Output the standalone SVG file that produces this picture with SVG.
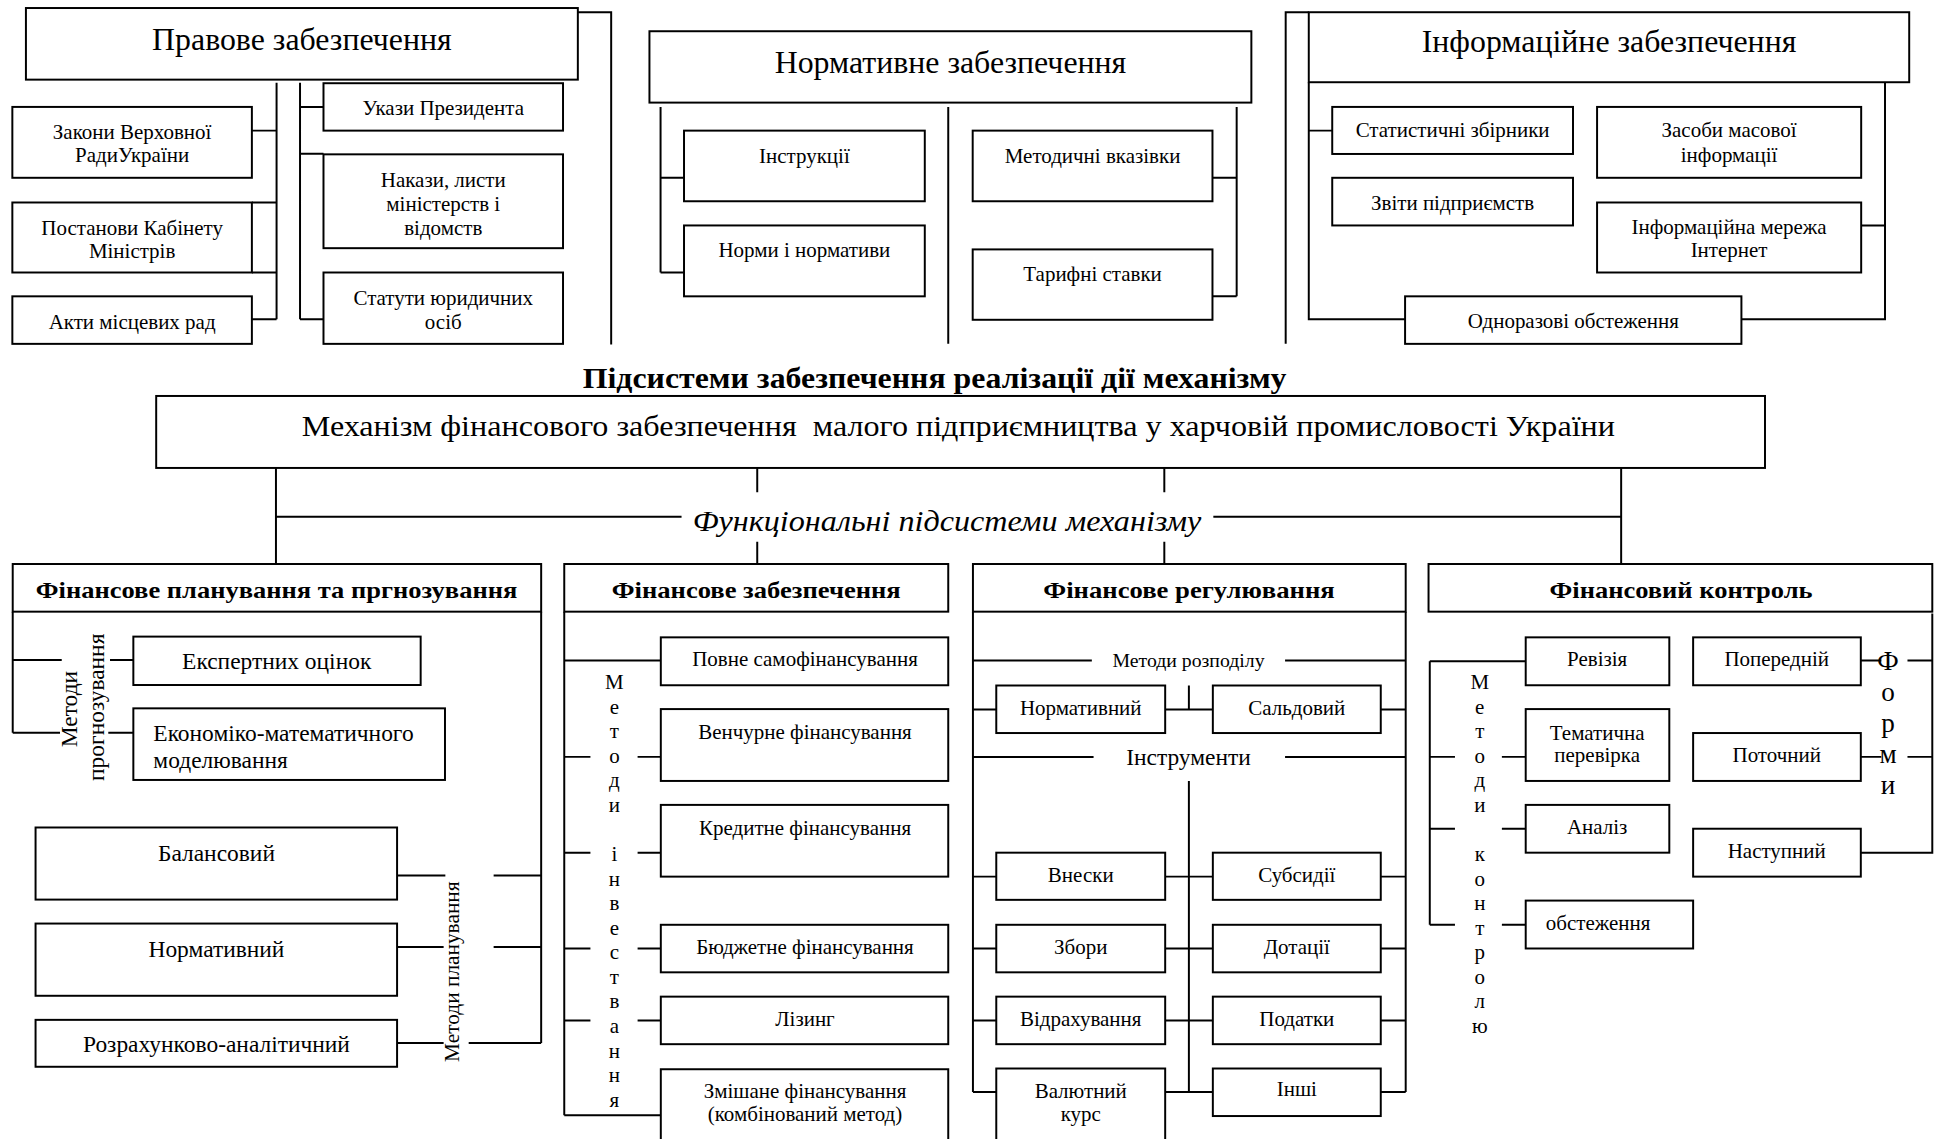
<svg xmlns="http://www.w3.org/2000/svg" width="1936" height="1139" viewBox="0 0 1936 1139">
<style>
.bx{fill:#fff;stroke:#000;stroke-width:1.6}
.ln{fill:none;stroke:#000;stroke-width:1.6}
text{font-family:'Liberation Serif','Times New Roman',serif;fill:#000;text-anchor:middle}
.f16{font-size:16px}
.f17{font-size:17px}
.f19{font-size:19px}
.f22{font-size:22px}
.f26{font-size:25.8px}
.hd{font-size:19.5px;font-weight:bold}
.st{text-anchor:start}
</style>
<rect width="1936" height="1139" fill="#fff"/>
<g transform="scale(1.234694)">
<g id="connectors" class="ln">
<path d="M468,10 H495 V279 M224,67 V258.5 M204,105.8 H224 M204,164 H224 M204,220.7 H224 M204,258.5 H224 M243,67 V258.5 M243,86.6 H262 M243,124.5 H262 M243,258.5 H262"/>
<path d="M535,86.6 V220.7 M535,144 H554 M535,220.7 H554 M768,86.6 V278.5 M1001.6,86.6 V240 M982,144 H1001.6 M982,240 H1001.6"/>
<path d="M1060,9.9 H1041.3 V278.5 M1060,66.6 V258.5 H1138 M1060,105.8 H1079 M1526.7,66.6 V258.5 H1410.4 M1507.4,182.6 H1526.7"/>
<path d="M223.5,379 V456.8 M223.5,418.5 H552 M982.7,418.5 H1313 M1313,379 V456.8 M613.3,379 V398.7 M613.3,438.7 V456.8 M943,379 V398.7 M943,438.7 V456.8"/>
<path d="M10.3,495.4 V593.4 M10.3,534.5 H50 M89.1,534.5 H108 M10.3,593.4 H48.6 M87.7,593.4 H108 M438.3,495.4 V844.8 M321.6,709 H360.7 M399.8,709 H438.3 M321.6,767 H359.3 M399.8,767 H438.3 M321.6,844.8 H359.3 M379.6,844.8 H438.3"/>
<path d="M457,495.4 V903.3 M457,535 H535.2 M457,613 H478.2 M516.4,613 H535.2 M457,690.6 H478.2 M516.4,690.6 H535.2 M457,768.2 H478.2 M516.4,768.2 H535.2 M457,826.6 H478.2 M516.4,826.6 H535.2 M457,903.3 H535.2"/>
<path d="M788,495.4 V884.5 M1138.5,495.4 V884.5 M788,535 H884.3 M1040.8,535 H1138.5 M788,574.6 H806.9 M943.7,574.6 H982.3 M962.9,555.2 V574.6 M1118.3,574.6 H1138.5 M788,613.1 H885.7 M1040.8,613.1 H1138.5 M962.9,632.5 V884.5 M788,710 H806.9 M943.7,710 H982.3 M1118.3,710 H1138.5 M788,768.2 H806.9 M943.7,768.2 H982.3 M1118.3,768.2 H1138.5 M788,826.6 H806.9 M943.7,826.6 H982.3 M1118.3,826.6 H1138.5 M788,884.5 H806.9 M943.7,884.5 H982.3 M1118.3,884.5 H1138.5"/>
<path d="M1565,496.8 V690.6 H1507.1 M1158,535.5 V749 M1158,535.5 H1235.7 M1158,613 H1178.4 M1216.4,613 H1235.7 M1158,671.2 H1178.4 M1216.4,671.2 H1235.7 M1158,749 H1178.4 M1216.4,749 H1235.7 M1507.1,535 H1523.7 M1544.9,535 H1565 M1507.1,613 H1523.7 M1544.9,613 H1565"/>
</g>

<g id="pravove"><rect class="bx" x="21" y="6.5" width="447" height="58"/><text class="f26" x="244.5" y="40.5">Правове забезпечення</text></g>
<g id="zakony"><rect class="bx" x="10" y="86.6" width="194" height="57.4"/><text class="f17"><tspan x="107" y="112.3">Закони Верховної</tspan><tspan x="107" y="131.5">РадиУкраїни</tspan></text></g>
<g id="postanovy"><rect class="bx" x="10" y="164" width="194" height="56.7"/><text class="f17"><tspan x="107" y="190">Постанови Кабінету</tspan><tspan x="107" y="209">Міністрів</tspan></text></g>
<g id="akty"><rect class="bx" x="10" y="240" width="194" height="38.5"/><text class="f17" x="107" y="266.3">Акти місцевих рад</text></g>
<g id="ukazy"><rect class="bx" x="262" y="67.4" width="194" height="38.4"/><text class="f17" x="359" y="93.2">Укази Президента</text></g>
<g id="nakazy"><rect class="bx" x="262" y="125" width="194" height="76"/><text class="f17"><tspan x="359" y="151.5">Накази, листи</tspan><tspan x="359" y="171">міністерств і</tspan><tspan x="359" y="190.3">відомств</tspan></text></g>
<g id="statuty"><rect class="bx" x="262" y="220.7" width="194" height="57.8"/><text class="f17"><tspan x="359" y="247.4">Статути юридичних</tspan><tspan x="359" y="266.6">осіб</tspan></text></g>

<g id="normatyvne"><rect class="bx" x="526" y="25.3" width="487.5" height="57.8"/><text class="f26" x="769.8" y="59.1">Нормативне забезпечення</text></g>
<g id="instrukcii"><rect class="bx" x="554" y="105.8" width="195" height="57.2"/><text class="f17" x="651.5" y="131.8">Інструкції</text></g>
<g id="normy"><rect class="bx" x="554" y="182.6" width="195" height="57.4"/><text class="f17" x="651.5" y="208.3">Норми і нормативи</text></g>
<g id="metodychni"><rect class="bx" x="787.8" y="105.8" width="194.2" height="57.2"/><text class="f17" x="884.9" y="131.8">Методичні вказівки</text></g>
<g id="taryfni"><rect class="bx" x="787.8" y="202" width="194.2" height="57"/><text class="f17" x="884.9" y="227.2">Тарифні ставки</text></g>

<g id="informaciyne"><rect class="bx" x="1060" y="9.9" width="486.3" height="56.7"/><text class="f26" x="1303.2" y="42.3">Інформаційне забезпечення</text></g>
<g id="statystychni"><rect class="bx" x="1079" y="86.6" width="195" height="38.1"/><text class="f17" x="1176.5" y="110.8">Статистичні збірники</text></g>
<g id="zvity"><rect class="bx" x="1079" y="144" width="195" height="38.6"/><text class="f17" x="1176.5" y="170">Звіти підприємств</text></g>
<g id="zasoby"><rect class="bx" x="1293.5" y="86.6" width="213.9" height="57.4"/><text class="f17"><tspan x="1400.4" y="111.3">Засоби масової</tspan><tspan x="1400.4" y="131">інформації</tspan></text></g>
<g id="merezha"><rect class="bx" x="1293.5" y="164" width="213.9" height="56.7"/><text class="f17"><tspan x="1400.4" y="189.3">Інформаційна мережа</tspan><tspan x="1400.4" y="208.3">Інтернет</tspan></text></g>
<g id="odnorazovi"><rect class="bx" x="1138" y="240" width="272.4" height="38.5"/><text class="f17" x="1274.2" y="266">Одноразові обстеження</text></g>

<g id="title"><text x="757" y="314.5" style="font-size:24px;font-weight:bold" textLength="570" lengthAdjust="spacingAndGlyphs">Підсистеми забезпечення реалізації дії механізму</text></g>
<g id="mechanism"><rect class="bx" x="126.5" y="320.7" width="1303" height="58.3"/><text x="776.2" y="353.3" style="font-size:23.5px" xml:space="preserve" textLength="1063.6" lengthAdjust="spacingAndGlyphs">Механізм фінансового забезпечення  малого підприємництва у харчовій промисловості України</text></g>
<g id="functional"><text x="767" y="430.3" style="font-size:24px;font-style:italic" textLength="412" lengthAdjust="spacingAndGlyphs">Функціональні підсистеми механізму</text></g>

<g id="col1-header"><rect class="bx" x="10.3" y="456.8" width="428" height="38.6"/><text class="hd" x="224" y="484.5" textLength="390" lengthAdjust="spacingAndGlyphs">Фінансове планування та пргнозування</text></g>
<g id="col2-header"><rect class="bx" x="457" y="456.8" width="311" height="38.6"/><text class="hd" x="612.5" y="484.5" textLength="234" lengthAdjust="spacingAndGlyphs">Фінансове забезпечення</text></g>
<g id="col3-header"><rect class="bx" x="788" y="456.8" width="350.5" height="38.6"/><text class="hd" x="963" y="484.5" textLength="236" lengthAdjust="spacingAndGlyphs">Фінансове регулювання</text></g>
<g id="col4-header"><rect class="bx" x="1157" y="456.8" width="408" height="38.6"/><text class="hd" x="1361.5" y="484.5" textLength="213" lengthAdjust="spacingAndGlyphs">Фінансовий контроль</text></g>

<g id="ekspertnykh"><rect class="bx" x="108" y="515.6" width="232.7" height="39.2"/><text class="f19" x="224.1" y="542.1">Експертних оцінок</text></g>
<g id="ekonomiko"><rect class="bx" x="108" y="573.7" width="252.4" height="58"/><text class="f19 st"><tspan x="124.2" y="600.2">Економіко-математичного</tspan><tspan x="124.2" y="622.3">моделювання</tspan></text></g>
<g id="metody-prognozuvannia"><text class="f19" transform="translate(62.5,574.3) rotate(-90)">Методи</text><text class="f19" transform="translate(84,572.8) rotate(-90)">прогнозування</text></g>
<g id="balansovyi"><rect class="bx" x="28.8" y="670.2" width="292.8" height="58.4"/><text class="f19" x="175.3" y="697.4">Балансовий</text></g>
<g id="normatyvnyi-plan"><rect class="bx" x="28.8" y="748" width="292.8" height="58.5"/><text class="f19" x="175.3" y="775.3">Нормативний</text></g>
<g id="rozrakhunkovo"><rect class="bx" x="28.8" y="826" width="292.8" height="38"/><text class="f19" x="175.3" y="851.8">Розрахунково-аналітичний</text></g>
<g id="metody-planuvannia"><text style="font-size:17.3px" transform="translate(372,787) rotate(-90)">Методи планування</text></g>

<g id="povne"><rect class="bx" x="535.2" y="516.2" width="232.8" height="38.8"/><text class="f17" x="652" y="539.4">Повне самофінансування</text></g>
<g id="venchurne"><rect class="bx" x="535.2" y="574.3" width="232.8" height="58.2"/><text class="f17" x="652" y="598.5">Венчурне фінансування</text></g>
<g id="kredytne"><rect class="bx" x="535.2" y="651.9" width="232.8" height="58.1"/><text class="f17" x="652" y="676.6">Кредитне фінансування</text></g>
<g id="biudzhetne"><rect class="bx" x="535.2" y="749" width="232.8" height="38.5"/><text class="f17" x="652" y="772.5">Бюджетне фінансування</text></g>
<g id="lizynh"><rect class="bx" x="535.2" y="807.2" width="232.8" height="38.5"/><text class="f17" x="652" y="830.8">Лізинг</text></g>
<g id="zmishane"><rect class="bx" x="535.2" y="866" width="232.8" height="62"/><text class="f17"><tspan x="652" y="889">Змішане фінансування</tspan><tspan x="652" y="908.3">(комбінований метод)</tspan></text></g>
<g id="metody-investuvannia"><text class="f17"><tspan x="497.6" y="558">М</tspan><tspan x="497.6" y="577.9">е</tspan><tspan x="497.6" y="597.8">т</tspan><tspan x="497.6" y="617.7">о</tspan><tspan x="497.6" y="637.6">д</tspan><tspan x="497.6" y="657.5">и</tspan><tspan x="497.6" y="697.3">і</tspan><tspan x="497.6" y="717.2">н</tspan><tspan x="497.6" y="737.1">в</tspan><tspan x="497.6" y="757">е</tspan><tspan x="497.6" y="776.9">с</tspan><tspan x="497.6" y="796.8">т</tspan><tspan x="497.6" y="816.7">в</tspan><tspan x="497.6" y="836.6">а</tspan><tspan x="497.6" y="856.5">н</tspan><tspan x="497.6" y="876.4">н</tspan><tspan x="497.6" y="896.3">я</tspan></text></g>

<g id="metody-rozpodilu"><text class="f16" x="962.6" y="540.5">Методи розподілу</text></g>
<g id="normatyvnyi-rozp"><rect class="bx" x="806.9" y="555.2" width="136.8" height="38.5"/><text class="f17" x="875.3" y="579">Нормативний</text></g>
<g id="saldovyi"><rect class="bx" x="982.3" y="555.2" width="136" height="38.5"/><text class="f17" x="1050.3" y="579">Сальдовий</text></g>
<g id="instrumenty"><text class="f19" x="962.6" y="619.5">Інструменти</text></g>
<g id="vnesky"><rect class="bx" x="806.9" y="690.6" width="136.8" height="38.2"/><text class="f17" x="875.3" y="714.4">Внески</text></g>
<g id="zbory"><rect class="bx" x="806.9" y="749" width="136.8" height="38.5"/><text class="f17" x="875.3" y="772.5">Збори</text></g>
<g id="vidrakhuvannia"><rect class="bx" x="806.9" y="807.2" width="136.8" height="38.5"/><text class="f17" x="875.3" y="830.8">Відрахування</text></g>
<g id="valiutnyi"><rect class="bx" x="806.9" y="865.4" width="136.8" height="62"/><text class="f17"><tspan x="875.3" y="889">Валютний</tspan><tspan x="875.3" y="908.3">курс</tspan></text></g>
<g id="subsydii"><rect class="bx" x="982.3" y="690.6" width="136" height="38.2"/><text class="f17" x="1050.3" y="714.4">Субсидії</text></g>
<g id="dotacii"><rect class="bx" x="982.3" y="749" width="136" height="38.5"/><text class="f17" x="1050.3" y="772.5">Дотації</text></g>
<g id="podatky"><rect class="bx" x="982.3" y="807.2" width="136" height="38.5"/><text class="f17" x="1050.3" y="830.8">Податки</text></g>
<g id="inshi"><rect class="bx" x="982.3" y="865.4" width="136" height="38.5"/><text class="f17" x="1050.3" y="888">Інші</text></g>

<g id="reviziia"><rect class="bx" x="1235.7" y="516.2" width="116.3" height="38.8"/><text class="f17" x="1293.6" y="539.4">Ревізія</text></g>
<g id="tematychna"><rect class="bx" x="1235.7" y="574.3" width="116.3" height="58.2"/><text class="f17"><tspan x="1293.6" y="599">Тематична</tspan><tspan x="1293.6" y="617.5">перевірка</tspan></text></g>
<g id="analiz"><rect class="bx" x="1235.7" y="651.9" width="116.3" height="38.7"/><text class="f17" x="1293.6" y="675.6">Аналіз</text></g>
<g id="obstezhennia"><rect class="bx" x="1235.7" y="729.4" width="135.6" height="38.8"/><text class="f17 st" x="1252" y="753.2">обстеження</text></g>
<g id="poperednii"><rect class="bx" x="1371.3" y="516.2" width="135.8" height="38.8"/><text class="f17" x="1439" y="539.4">Попередній</text></g>
<g id="potochnyi"><rect class="bx" x="1371.3" y="593.7" width="135.8" height="38.8"/><text class="f17" x="1439" y="617.5">Поточний</text></g>
<g id="nastupnyi"><rect class="bx" x="1371.3" y="671.2" width="135.8" height="38.8"/><text class="f17" x="1439" y="695">Наступний</text></g>
<g id="metody-kontroliu"><text class="f17"><tspan x="1198.5" y="558">М</tspan><tspan x="1198.5" y="577.9">е</tspan><tspan x="1198.5" y="597.8">т</tspan><tspan x="1198.5" y="617.7">о</tspan><tspan x="1198.5" y="637.6">д</tspan><tspan x="1198.5" y="657.5">и</tspan><tspan x="1198.5" y="697.3">к</tspan><tspan x="1198.5" y="717.2">о</tspan><tspan x="1198.5" y="737.1">н</tspan><tspan x="1198.5" y="757">т</tspan><tspan x="1198.5" y="776.9">р</tspan><tspan x="1198.5" y="796.8">о</tspan><tspan x="1198.5" y="816.7">л</tspan><tspan x="1198.5" y="836.6">ю</tspan></text></g>
<g id="formy"><text class="f22"><tspan x="1529.2" y="543">Ф</tspan><tspan x="1529.2" y="568">о</tspan><tspan x="1529.2" y="593">р</tspan><tspan x="1529.2" y="618">м</tspan><tspan x="1529.2" y="643">и</tspan></text></g>
</g>
</svg>
